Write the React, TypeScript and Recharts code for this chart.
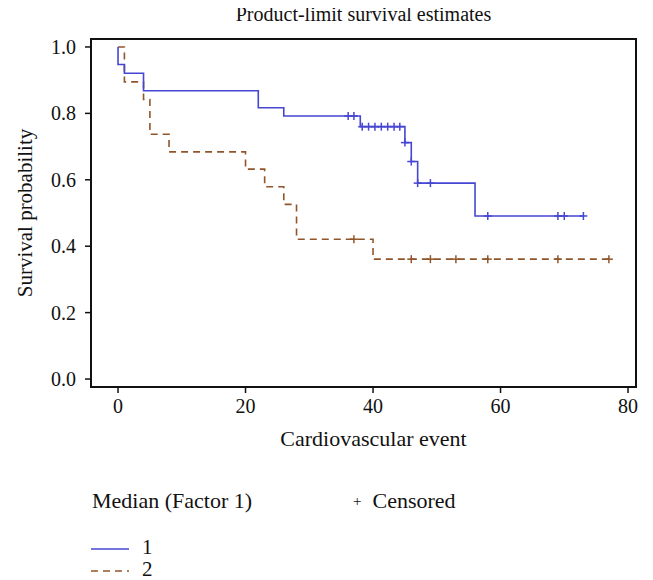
import React from 'react';
import { ComposedChart, Line, Scatter, XAxis, YAxis, ReferenceArea } from 'recharts';

// Group 1 (Median Factor 1 = 1) step curve
const g1Times = [0, 0, 1, 4, 22, 26, 38, 45, 46, 47, 56, 73];
const g1Surv = [1.0, 0.947, 0.921, 0.868, 0.817, 0.792, 0.76, 0.712, 0.655, 0.59, 0.491, 0.491];
// Group 1 censored
const g1CensTimes = [36.1, 37, 38.3, 39.3, 40.3, 41.3, 42.3, 43.3, 44.2, 45, 46, 47, 49, 58, 69, 70, 73];
const g1CensSurv = [0.792, 0.792, 0.76, 0.76, 0.76, 0.76, 0.76, 0.76, 0.76, 0.712, 0.655, 0.59, 0.59, 0.491, 0.491, 0.491, 0.491];

// Group 2 (Median Factor 1 = 2) step curve
const g2Times = [0, 1, 4, 5, 8, 20, 23, 26, 28, 40, 77];
const g2Surv = [1.0, 0.895, 0.842, 0.737, 0.684, 0.632, 0.579, 0.526, 0.421, 0.361, 0.361];
// Group 2 censored
const g2CensTimes = [37, 46, 49, 53, 58, 69, 77];
const g2CensSurv = [0.421, 0.361, 0.361, 0.361, 0.361, 0.361, 0.361];

const xTicks = [0, 20, 40, 60, 80];
const yTicks = [0, 0.2, 0.4, 0.6, 0.8, 1.0];
const xDomain = [-4.24, 81.25];
const yDomain = [-0.024, 1.024];

const BLUE = '#4646d2';
const BROWN = '#91552b';
const FONT = '"Liberation Serif", "DejaVu Serif", serif';

const toPts = (t: number[], s: number[]) => t.map((x, i) => ({ x, y: s[i] }));
const g1 = toPts(g1Times, g1Surv);
const g2 = toPts(g2Times, g2Surv);
const g1c = toPts(g1CensTimes, g1CensSurv);
const g2c = toPts(g2CensTimes, g2CensSurv);

const plus = (color: string) => (props: any) => {
  const { cx, cy } = props;
  return (
    <g>
      <line x1={cx - 4} x2={cx + 4} y1={cy} y2={cy} stroke={color} strokeWidth={1.5} />
      <line x1={cx} x2={cx} y1={cy - 4} y2={cy + 4} stroke={color} strokeWidth={1.5} />
    </g>
  );
};

export default function App() {
  return (
    <div style={{ position: 'relative', width: 645, height: 572, fontFamily: FONT, background: '#fff' }}>
      <div
        style={{
          position: 'absolute',
          left: 83,
          width: 545,
          top: -5,
          textAlign: 'center',
          fontSize: 20,
          color: '#111',
          whiteSpace: 'nowrap',
        }}
      >
        Product-limit survival estimates
      </div>
      <ComposedChart
        width={645}
        height={460}
        margin={{ top: 31, right: 17, left: 13, bottom: 11 }}
        style={{ fontFamily: FONT }}
      >
        <XAxis
          type="number"
          dataKey="x"
          domain={xDomain}
          ticks={xTicks}
          allowDataOverflow
          height={70}
          axisLine={false}
          tickLine={{ stroke: '#111', strokeWidth: 1.5 }}
          tickSize={6}
          tickMargin={6}
          tick={{ fill: '#111', fontSize: 20, fontFamily: FONT }}
          label={{
            content: (p: any) => {
              const vb = p.viewBox || {};
              return (
                <text
                  x={vb.x + vb.width / 2 + 10}
                  y={vb.y + 59}
                  textAnchor="middle"
                  fontSize={22}
                  fontFamily={FONT}
                  fill="#111"
                >
                  Cardiovascular event
                </text>
              );
            },
          }}
        />
        <YAxis
          type="number"
          dataKey="y"
          domain={yDomain}
          ticks={yTicks}
          allowDataOverflow
          width={70}
          axisLine={false}
          tickLine={{ stroke: '#111', strokeWidth: 1.5 }}
          tickSize={6}
          tickMargin={9}
          tickFormatter={(v: number) => v.toFixed(1)}
          tick={{ fill: '#111', fontSize: 20, fontFamily: FONT }}
          label={{
            content: (p: any) => {
              const vb = p.viewBox || {};
              const cx = 17;
              const cy = vb.y + vb.height / 2;
              return (
                <text
                  x={cx}
                  y={cy}
                  transform={`rotate(-90, ${cx}, ${cy})`}
                  textAnchor="middle"
                  dominantBaseline="central"
                  fontSize={21}
                  fontFamily={FONT}
                  fill="#111"
                >
                  Survival probability
                </text>
              );
            },
          }}
        />
        <ReferenceArea
          x1={xDomain[0]}
          x2={xDomain[1]}
          y1={yDomain[0]}
          y2={yDomain[1]}
          fill="none"
          stroke="#111"
          strokeWidth={2}
          ifOverflow="extendDomain"
        />
        <Line
          data={g2}
          dataKey="y"
          type="stepAfter"
          stroke={BROWN}
          strokeWidth={1.6}
          strokeDasharray="7 5"
          dot={false}
          activeDot={false}
          isAnimationActive={false}
        />
        <Line
          data={g1}
          dataKey="y"
          type="stepAfter"
          stroke={BLUE}
          strokeWidth={1.6}
          dot={false}
          activeDot={false}
          isAnimationActive={false}
        />
        <Scatter data={g2c} dataKey="y" shape={plus(BROWN)} isAnimationActive={false} />
        <Scatter data={g1c} dataKey="y" shape={plus(BLUE)} isAnimationActive={false} />
      </ComposedChart>
      <div style={{ position: 'absolute', left: 0, top: 0, width: 645, height: 572, pointerEvents: 'none' }}>
        <div style={{ position: 'absolute', left: 84, top: 480, fontSize: 22, color: '#111', whiteSpace: 'nowrap' }}>
          Median (Factor 1)
        </div>
        <div style={{ position: 'absolute', left: 345, top: 480, fontSize: 22, color: '#111', whiteSpace: 'nowrap' }}>
          <span style={{ fontSize: 15, marginRight: 11, position: 'relative', top: -2 }}>+</span>Censored
        </div>
        <svg style={{ position: 'absolute', left: 0, top: 520 }} width={200} height={52}>
          <line x1={83} x2={121} y1={21} y2={21} stroke={BLUE} strokeWidth={1.6} />
          <line x1={83} x2={121} y1={43} y2={43} stroke={BROWN} strokeWidth={1.6} strokeDasharray="7 5" />
        </svg>
        <div style={{ position: 'absolute', left: 134, top: 527, fontSize: 21, color: '#111' }}>1</div>
        <div style={{ position: 'absolute', left: 134, top: 549, fontSize: 21, color: '#111' }}>2</div>
      </div>
    </div>
  );
}
